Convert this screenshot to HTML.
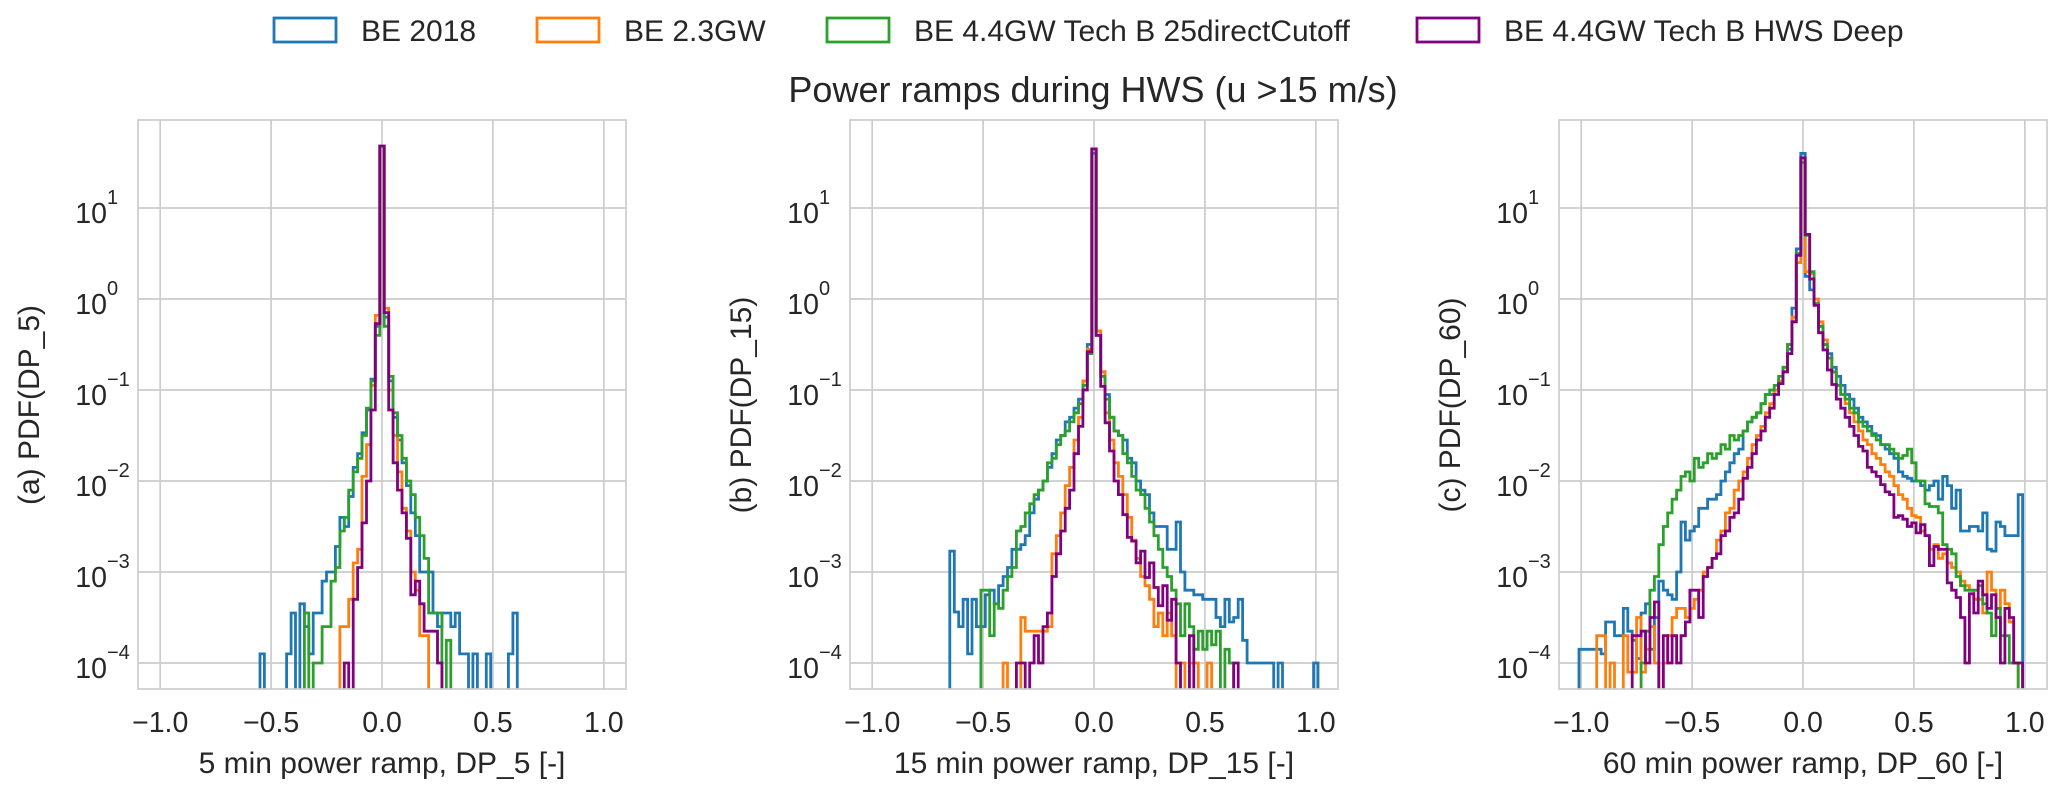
<!DOCTYPE html>
<html><head><meta charset="utf-8"><style>
html,body{margin:0;padding:0;background:#fff;}
svg{display:block;font-family:"Liberation Sans",Arial,sans-serif;}
</style></head><body>
<svg id="fig" width="2067" height="795" viewBox="0 0 2067 795" xmlns="http://www.w3.org/2000/svg">
<rect width="2067" height="795" fill="#fff"/>
<g id="legend"></g>
<text x="1093" y="102" font-size="36" text-anchor="middle" fill="#262626">Power ramps during HWS (u &gt;15 m/s)</text>
<g id="panels"></g>
</svg>
<script>
// ---- data: log10 PDF values per 0.02-wide bin; "right" starts at bin 0, "left" starts at bin -1 going outward ----
const seriesNames = ["BE 2018", "BE 2.3GW", "BE 4.4GW Tech B 25directCutoff", "BE 4.4GW Tech B HWS Deep"];
const xTicks = [-1.0, -0.5, 0.0, 0.5, 1.0];
const yTickExps = [1, 0, -1, -2, -3, -4];
const panelTitles = ["(a) PDF(DP_5)", "(b) PDF(DP_15)", "(c) PDF(DP_60)"];
const panelXLabels = ["5 min power ramp, DP_5 [-]", "15 min power ramp, DP_15 [-]", "60 min power ramp, DP_60 [-]"];

// Panel 1 (5 min)
const p1BlueRight = [1.68,-0.2,-0.9,-1.3,-1.55,-1.8,-2.05,-2.35,-2.6,-3.0,-3.0,-3.0,-3.45,-3.6,-3.45,-3.45,-3.6,-3.45,-3.9,-3.9,null,-3.9,null,null,-3.9,null,null,null,null,-3.9,-3.45];
const p1BlueLeft = [-0.3,-0.88,-1.22,-1.47,-1.7,-1.85,-2.17,-2.5,-2.4,-2.72,-3.0,-3.0,-3.1,-3.45,-3.45,-3.9,-3.6,-3.35,null,-3.45,-3.9,null,null,null,null,null,-3.9];
const p1OrangeRight = [1.68,-0.1,-1.0,-1.5,-1.9,-2.3,-2.55,-3.0,-3.2,-3.7,-3.7];
const p1OrangeLeft = [-0.18,-0.95,-1.6,-1.95,-2.75,-2.9,-3.3,-3.6,-3.6];
const p1GreenRight = [1.68,-0.3,-0.85,-1.25,-1.5,-1.75,-2.0,-2.15,-2.4,-2.6,-2.85,-3.45,-3.45,-3.45,null,-3.75];
const p1GreenLeft = [-0.4,-0.9,-1.2,-1.5,-1.75,-1.9,-2.1,-2.4,-2.55,-2.95,-3.1,-3.6,-3.6,-4.0,-4.0,null,-3.45];
const p1PurpleRight = [1.68,-0.15,-1.22,-1.8,-2.1,-2.35,-2.63,-3.25,-3.1,-3.35,-3.65,-3.65,-3.65,-4.0];
const p1PurpleLeft = [-0.27,-1.22,-2.0,-2.46,-2.95,-3.3,null,-4.0];

// Panel 2 (15 min)
const p2BlueRight = [1.6,-0.35,-0.8,-1.05,-1.3,-1.45,-1.5,-1.55,-1.75,-1.8,-2.0,-2.1,-2.15,-2.35,-2.5,-2.5,-2.5,-2.75,-2.75,-2.45,-3.0,-3.2,-3.2,-3.25,-3.25,-3.3,-3.3,-3.3,-3.5,-3.6,-3.3,-3.55,-3.5,-3.3,-3.75,-4.0,-4.0,-4.0,-4.0,-4.0,-4.0,null,-4.0,null,null,null,null,null,null,null,-4.0];
const p2BlueLeft = [-0.5,-0.9,-1.1,-1.2,-1.3,-1.35,-1.5,-1.55,-1.7,-1.85,-2.0,-2.1,-2.2,-2.35,-2.6,-2.7,-2.75,-2.75,-2.95,-3.05,-3.15,-3.35,-3.2,-3.25,-3.6,-3.6,-3.3,-3.9,-3.3,-3.6,-3.44,-2.77];
const p2OrangeRight = [1.65,-0.35,-0.8,-1.25,-1.55,-1.8,-1.95,-2.15,-2.4,-2.65,-2.85,-3.05,-3.15,-3.3,-3.6,-3.45,-3.7,-3.45,-3.7,null,-4.0,null,-4.0,-4.0,null,null,-4.0];
const p2OrangeLeft = [-0.55,-0.9,-1.3,-1.55,-1.85,-2.05,-2.35,-2.6,-2.8,-3.6,-3.65,-3.65,-3.65,-3.65,-3.65,-3.5,null,null,null,-4.0];
const p2GreenRight = [1.65,-0.4,-0.85,-1.1,-1.3,-1.45,-1.5,-1.7,-1.8,-1.95,-2.1,-2.15,-2.3,-2.45,-2.6,-2.75,-2.95,-3.05,-3.2,-3.35,-3.7,-3.35,-3.6,-3.85,-3.65,-3.85,-3.65,-3.8,-3.65,null,-3.85,-4.0];
const p2GreenLeft = [-0.6,-0.95,-1.15,-1.25,-1.35,-1.45,-1.5,-1.6,-1.75,-1.8,-2.0,-2.1,-2.15,-2.25,-2.35,-2.5,-2.55,-2.95,-3.05,-3.2,-3.4,-3.35,-3.7,-3.2,-3.2];
const p2PurpleRight = [1.65,-0.4,-0.96,-1.36,-1.67,-2.0,-2.15,-2.37,-2.62,-2.66,-2.9,-2.77,-3.06,-2.9,-3.17,-3.37,-3.15,-3.53,-3.3,-4.0,null,null,-3.7,null,null,null,null,null,null,null,null,null,-4.0];
const p2PurpleLeft = [-0.58,-1.0,-1.4,-1.7,-2.1,-2.3,-2.55,-2.8,-3.05,-3.45,-3.6,-4.0,-3.7,-4.0,null,-4.0,-4.0];

// Panel 3 (60 min)
const p3BlueRight = [1.6,0.25,0.1,-0.05,-0.3,-0.5,-0.6,-0.75,-0.85,-0.95,-1.05,-1.1,-1.2,-1.3,-1.35,-1.4,-1.48,-1.5,-1.6,-1.65,-1.7,-1.75,-1.9,-1.95,-1.97,-2.0,-2.0,-2.05,-2.1,-2.05,-2.0,-2.2,-1.95,-2.05,-2.3,-2.1,-2.55,-2.55,-2.5,-2.5,-2.55,-2.35,-2.75,-2.77,-2.45,-2.5,-2.6,-2.6,-2.6,-2.15];
const p3BlueLeft = [0.55,-0.1,-0.55,-0.8,-0.9,-1.0,-1.05,-1.05,-1.15,-1.25,-1.3,-1.35,-1.45,-1.65,-1.7,-1.8,-1.9,-2.0,-2.15,-2.2,-2.2,-2.3,-2.3,-2.5,-2.55,-2.65,-2.45,-3.0,-3.3,-3.25,-3.2,-3.1,-3.5,-3.85,-3.35,-3.45,-3.95,-3.75,-3.65,-3.4,-3.7,-3.7,-3.55,-3.55,-3.9,-3.85,-3.85,-3.85,-3.85,-3.85];
const p3OrangeRight = [1.55,0.3,0.28,0.0,-0.25,-0.45,-0.65,-0.8,-0.95,-1.05,-1.15,-1.25,-1.35,-1.45,-1.55,-1.6,-1.7,-1.75,-1.82,-1.9,-1.95,-2.05,-2.15,-2.2,-2.3,-2.38,-2.4,-2.55,-2.6,-2.75,-2.7,-2.85,-2.8,-2.9,-2.95,-3.0,-3.1,-3.15,-3.2,-3.3,-3.3,-3.45,-3.0,-3.2,-3.4,-3.2,-3.35,-3.55,-4.0];
const p3OrangeLeft = [0.4,-0.2,-0.5,-0.75,-0.9,-1.0,-1.15,-1.25,-1.4,-1.5,-1.6,-1.75,-1.9,-2.0,-2.1,-2.3,-2.35,-2.55,-2.65,-2.85,-2.95,-3.0,-3.2,-3.3,-3.4,-3.5,-3.4,-3.4,-3.5,-3.7,-4.0,null,-4.0,-3.6,-3.85,-4.1,-3.5,-4.1,-4.1,-3.7,null,null,-4.0,null,-3.7,-3.7];
const p3GreenRight = [1.5,0.7,0.3,-0.05,-0.3,-0.5,-0.65,-0.8,-0.95,-1.05,-1.1,-1.2,-1.25,-1.35,-1.4,-1.45,-1.5,-1.55,-1.6,-1.6,-1.65,-1.7,-1.75,-1.72,-1.65,-1.8,-2.0,-2.0,-2.25,-2.28,-2.28,-2.35,-2.7,-2.75,-2.8,-3.05,-3.15,-3.2,-3.2,-3.2,-3.15,-3.35,-3.45,-3.7,-3.4,-3.7,-3.7,-4.0,-4.0];
const p3GreenLeft = [0.5,-0.25,-0.5,-0.75,-0.85,-0.95,-1.0,-1.05,-1.15,-1.25,-1.3,-1.35,-1.45,-1.5,-1.55,-1.5,-1.65,-1.6,-1.7,-1.75,-1.7,-1.8,-1.85,-1.75,-2.0,-1.9,-1.95,-2.1,-2.2,-2.35,-2.5,-2.7,-3.05,-3.2,-3.65,-4.0];
const p3PurpleRight = [1.55,0.71,0.22,-0.07,-0.37,-0.56,-0.78,-0.94,-1.1,-1.2,-1.3,-1.4,-1.5,-1.62,-1.67,-1.85,-1.9,-1.95,-2.04,-2.12,-2.15,-2.4,-2.38,-2.42,-2.5,-2.46,-2.57,-2.48,-2.6,-2.93,-2.72,-2.75,-2.75,-3.12,-3.2,-3.28,-3.5,-4.0,-3.24,-3.45,-3.1,-3.25,-3.4,-3.25,-3.5,-4.0,-3.4,-3.5,-4.0,-4.0];
const p3PurpleLeft = [0.48,-0.25,-0.6,-0.8,-0.93,-1.05,-1.2,-1.3,-1.45,-1.55,-1.7,-1.85,-1.97,-2.2,-2.35,-2.4,-2.55,-2.6,-2.8,-2.85,-2.95,-3.05,-3.5,-3.2,-3.2,-3.55,-3.7,-4.0,-3.7,-4.0,-3.7,null,-3.33,-3.5,-4.0,-3.65,-3.7,-3.7];

const colors = ["#1f77b4", "#ff7f0e", "#2ca02c", "#800080"];
const binWidth = 0.02;
const panelData = [
  [[p1BlueLeft,p1BlueRight],[p1OrangeLeft,p1OrangeRight],[p1GreenLeft,p1GreenRight],[p1PurpleLeft,p1PurpleRight]],
  [[p2BlueLeft,p2BlueRight],[p2OrangeLeft,p2OrangeRight],[p2GreenLeft,p2GreenRight],[p2PurpleLeft,p2PurpleRight]],
  [[p3BlueLeft,p3BlueRight],[p3OrangeLeft,p3OrangeRight],[p3GreenLeft,p3GreenRight],[p3PurpleLeft,p3PurpleRight]]
];

const NS = "http://www.w3.org/2000/svg";
function mk(tag, attrs, parent) {
  const e = document.createElementNS(NS, tag);
  for (const k in attrs) e.setAttribute(k, attrs[k]);
  if (parent) parent.appendChild(e);
  return e;
}
const panelLefts = [138, 850, 1559];
const PW = 488, TOP = 120, BOT = 689;
const XMIN = -1.1, XMAX = 1.1;
function yOf(lg) { return 208 - (lg - 1) * 91; }
const panelsG = document.getElementById('panels');

panelLefts.forEach((L, pi) => {
  const xOf = v => L + (v - XMIN) / (XMAX - XMIN) * PW;
  const g = mk('g', {}, panelsG);
  
  
  const clipId = 'clip' + pi;
  const cp = mk('clipPath', {id: clipId}, g);
  mk('rect', {x: L, y: TOP, width: PW, height: BOT - TOP}, cp);
  xTicks.forEach(t => {
    const gl = mk('line', {x1: xOf(t), x2: xOf(t), y1: TOP, y2: BOT, stroke: '#cccccc', 'stroke-width': 1.7}, g);
    
    
    const tl = mk('text', {x: xOf(t), y: 732, 'font-size': 28.5, 'text-anchor': 'middle', fill: '#262626'}, g);
    tl.textContent = (t < 0 ? '\u2212' : '') + Math.abs(t).toFixed(1);
    
    
  });
  yTickExps.forEach(e => {
    const y = yOf(e);
    const gl = mk('line', {x1: L, x2: L + PW, y1: y, y2: y, stroke: '#cccccc', 'stroke-width': 1.7}, g);
    
    
    const tl = mk('text', {x: L - 31, y: y + 15, 'font-size': 28.5, 'text-anchor': 'end', fill: '#262626'}, g);
    tl.textContent = '10';
    
    
    const sup = mk('text', {x: L - 31, y: y - 4, 'font-size': 20, 'text-anchor': 'start', fill: '#262626'}, g);
    sup.textContent = e < 0 ? '\u2212' + Math.abs(e) : String(e);
    
    
  });
  panelData[pi].forEach((pair, si) => {
    const left = pair[0], right = pair[1];
    const bins = [];
    for (let i = left.length - 1; i >= 0; i--) bins.push([-(i + 1), left[i]]);
    for (let i = 0; i < right.length; i++) bins.push([i, right[i]]);
    const floorY = BOT + 40;
    let d = '';
    bins.forEach((b, i) => {
      const x0 = xOf(b[0] * binWidth - binWidth / 2), x1 = xOf(b[0] * binWidth + binWidth / 2);
      const y = b[1] === null ? floorY : yOf(b[1]);
      if (i === 0) d += 'M' + x0.toFixed(1) + ',' + floorY + ' ';
      d += 'L' + x0.toFixed(1) + ',' + y.toFixed(1) + ' L' + x1.toFixed(1) + ',' + y.toFixed(1) + ' ';
      if (i === bins.length - 1) d += 'L' + x1.toFixed(1) + ',' + floorY;
    });
    const p = mk('path', {d: d, fill: 'none', stroke: colors[si], 'stroke-width': 2.8, 'stroke-linejoin': 'miter', 'clip-path': 'url(#' + clipId + ')'}, g);
    
    
  });
  const fr = mk('rect', {x: L, y: TOP, width: PW, height: BOT - TOP, fill: 'none', stroke: '#cccccc', 'stroke-width': 1.7}, g);
  
  
  const xl = mk('text', {x: L + PW / 2, y: 773, 'font-size': 30, 'text-anchor': 'middle', fill: '#262626'}, g);
  xl.textContent = panelXLabels[pi];
  
  
  const cx = L - 107, cy = 405;
  const yl = mk('text', {x: cx, y: cy, 'font-size': 30, 'text-anchor': 'middle', fill: '#262626', transform: 'rotate(-90 ' + cx + ' ' + cy + ')', 'dominant-baseline': 'middle'}, g);
  yl.textContent = panelTitles[pi];
  
  
});

const lg = document.getElementById('legend');
const legX = [274, 537, 827, 1417];
seriesNames.forEach((n, i) => {
  const eg = mk('g', {}, lg);
  
  
  mk('rect', {x: legX[i], y: 18, width: 62, height: 24, fill: 'none', stroke: colors[i], 'stroke-width': 2.8}, eg);
  const t = mk('text', {x: legX[i] + 87, y: 41, 'font-size': 30, fill: '#262626'}, eg);
  t.textContent = n;
});
</script>
</body></html>
